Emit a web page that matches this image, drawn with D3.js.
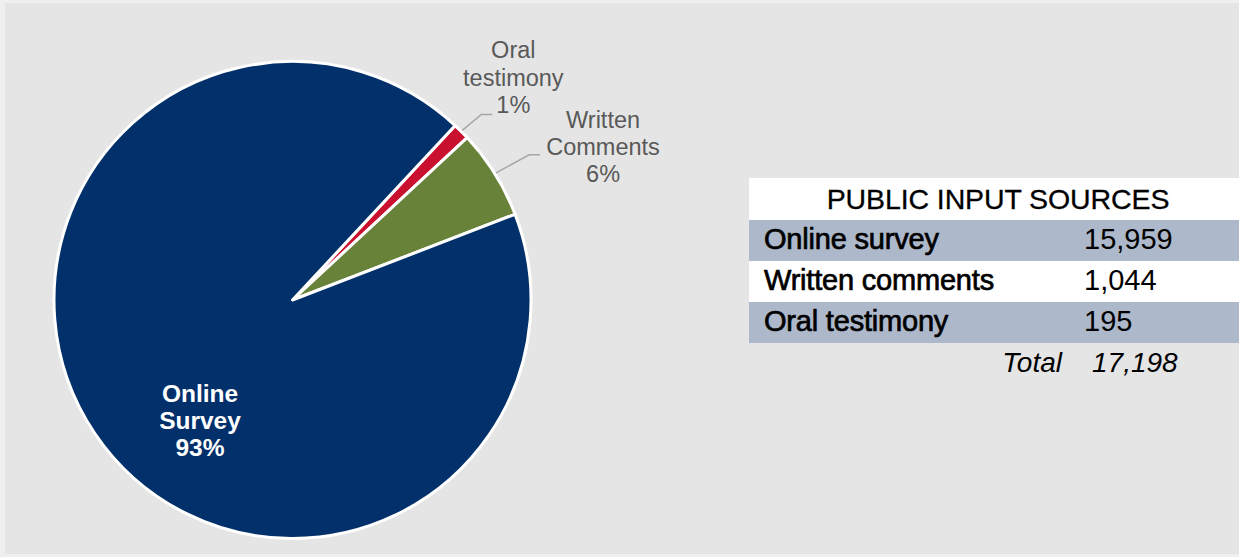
<!DOCTYPE html>
<html>
<head>
<meta charset="utf-8">
<script src="https://cdn.jsdelivr.net/npm/d3@7"></script>
<style>
  html, body { margin: 0; padding: 0; background: #f0f0f0; }
  svg { display: block; font-family: "Liberation Sans", Arial, sans-serif; }
</style>
</head>
<body>
<svg id="chart" width="1239" height="557"></svg>
<script>
// Public input received, by source
const sources = ["Online survey", "Written comments", "Oral testimony"];
const counts = [15959, 1044, 195];
const sliceLabels = [["Online", "Survey"], ["Written", "Comments"], ["Oral", "testimony"]];
const sliceColors = ["#02306a", "#68823a", "#c9102f"];
// Clockwise drawing order of the slices (indices into the arrays above)
const sliceOrder = [2, 1, 0];
const tableTitle = "PUBLIC INPUT SOURCES";
const totalLabel = "Total";

const total = d3.sum(counts);
const fmt = d3.format(",");

const svg = d3.select("#chart");
const W = 1239, H = 557;

// background panel
svg.append("rect").attr("x", 0).attr("y", 0).attr("width", W).attr("height", H).attr("fill", "#efefef");
svg.append("rect").attr("x", 5).attr("y", 3).attr("width", W - 5).attr("height", 551).attr("fill", "#e5e5e5");

// ---------- pie ----------
const cx = 292.5, cy = 300, R = 240;
const g = svg.append("g").attr("transform", `translate(${cx},${cy})`);

const pie = d3.pie()
  .sort(null)
  .value(i => counts[i])
  .startAngle(43 * Math.PI / 180)
  .endAngle(43 * Math.PI / 180 + 2 * Math.PI);

const arcs = pie(sliceOrder);
const arc = d3.arc().innerRadius(0).outerRadius(R - 1.5);

g.selectAll("path.slice")
  .data(arcs)
  .join("path")
  .attr("class", "slice")
  .attr("d", arc)
  .attr("fill", d => sliceColors[d.data])
  .attr("stroke", "#ffffff")
  .attr("stroke-width", 3)
  .attr("stroke-linejoin", "round");

const pct = i => Math.round(counts[i] / total * 100) + "%";
const midAngle = d => (d.startAngle + d.endAngle) / 2;
const polar = (a, r) => [r * Math.sin(a), -r * Math.cos(a)];

// outside labels with leader lines for the small slices
// elbow: bend of the leader; run: horizontal tail; text: centre / first baseline of the label
const outside = {
  1: { elbow: [33, -18], run: 11, text: [63, -27] },
  2: { elbow: [19, -16], run: 11, text: [21, -56] }
};
const lineH = 27.2;

arcs.forEach(d => {
  const i = d.data;
  if (i === 0) {
    // inside label for the dominant slice
    const lines = sliceLabels[i].concat([pct(i)]);
    const t = g.append("text")
      .attr("text-anchor", "middle")
      .attr("fill", "#ffffff")
      .attr("font-weight", "bold")
      .attr("font-size", 24.5);
    lines.forEach((s, k) => {
      t.append("tspan").attr("x", -92.5).attr("y", 102 + k * lineH).text(s);
    });
    return;
  }
  const o = outside[i];
  const p0 = polar(midAngle(d), R);
  const p1 = [p0[0] + o.elbow[0], p0[1] + o.elbow[1]];
  const p2 = [p1[0] + o.run, p1[1]];
  g.append("path")
    .attr("d", d3.line()([p0, p1, p2]))
    .attr("fill", "none")
    .attr("stroke", "#a6a6a6")
    .attr("stroke-width", 1.5);
  const lines = sliceLabels[i].concat([pct(i)]);
  const t = g.append("text")
    .attr("text-anchor", "middle")
    .attr("fill", "#595959")
    .attr("font-size", 23.5);
  lines.forEach((s, k) => {
    t.append("tspan")
      .attr("x", p2[0] + o.text[0])
      .attr("y", p2[1] + o.text[1] + k * lineH)
      .text(s);
  });
});

// ---------- table ----------
const tx = 749, tw = W - tx, ty = 178, headH = 42, rowH = 41;
const tg = svg.append("g");

tg.append("rect").attr("x", tx).attr("y", ty).attr("width", tw).attr("height", headH).attr("fill", "#ffffff");
tg.append("text")
  .attr("x", tx + tw / 2 + 4)
  .attr("y", ty + 31)
  .attr("text-anchor", "middle")
  .attr("font-size", 28.5)
  .attr("letter-spacing", -0.1)
  .attr("stroke", "#000").attr("stroke-width", 0.3)
  .attr("fill", "#000")
  .text(tableTitle);

const rowY = d3.scaleBand().domain(sources).range([ty + headH, ty + headH + rowH * sources.length]);

const rows = tg.selectAll("g.row")
  .data(sources)
  .join("g")
  .attr("class", "row")
  .attr("transform", s => `translate(0,${rowY(s)})`);

rows.append("rect")
  .attr("x", tx).attr("width", tw).attr("height", rowY.bandwidth())
  .attr("fill", (s, k) => k % 2 === 0 ? "#adb9ca" : "#ffffff");

rows.append("text")
  .attr("x", tx + 15)
  .attr("y", 29)
  .attr("font-size", 29)
  .attr("letter-spacing", -0.2)
  .attr("stroke", "#000").attr("stroke-width", 0.7)
  .attr("fill", "#000")
  .text(s => s);

rows.append("text")
  .attr("x", 1084)
  .attr("y", 29)
  .attr("font-size", 29)
  .attr("fill", "#000")
  .text((s, k) => fmt(counts[k]));

const totY = ty + headH + rowH * sources.length + 29;
tg.append("text")
  .attr("x", 1062).attr("y", totY)
  .attr("text-anchor", "end")
  .attr("font-size", 28).attr("font-style", "italic")
  .attr("fill", "#000")
  .text(totalLabel);
tg.append("text")
  .attr("x", 1092).attr("y", totY)
  .attr("font-size", 28).attr("font-style", "italic")
  .attr("fill", "#000")
  .text(fmt(total));
</script>
</body>
</html>
